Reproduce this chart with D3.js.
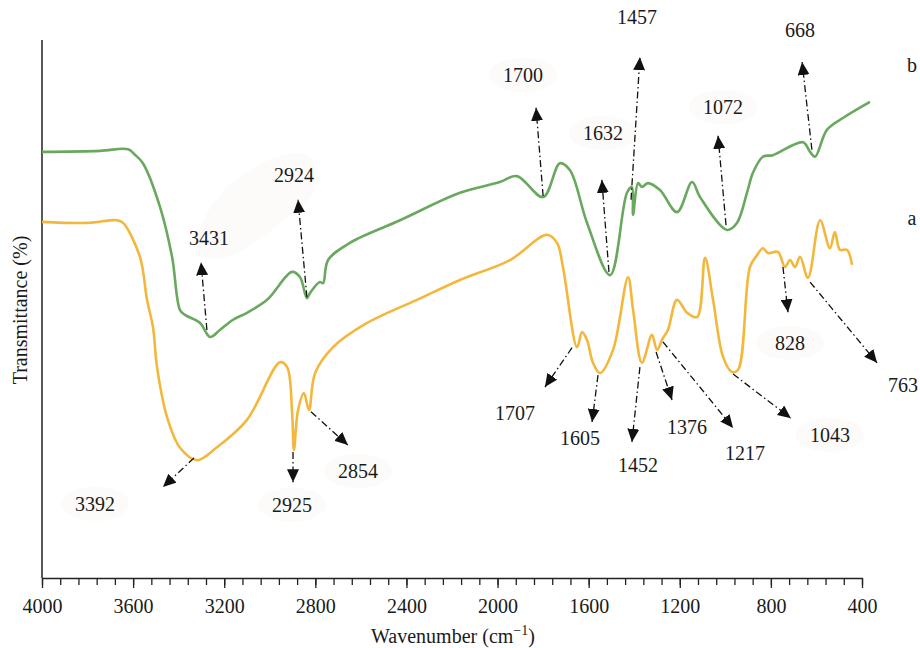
<!DOCTYPE html>
<html>
<head>
<meta charset="utf-8">
<script src="https://cdn.jsdelivr.net/npm/d3@7"></script>
<style>
  body { margin: 0; background: #fff; }
  text { font-family: "Liberation Serif", "DejaVu Serif", serif; fill: #1a1a1a; }
</style>
</head>
<body>
<div id="chart-area"></div>
<script>
// spectra: [wavenumber cm-1, transmittance]
const sampleB = [
  [4000, 79.2], [3745, 79.4], [3622, 79.7], [3590, 78.6], [3557, 77.1], [3482, 69.0], [3429, 59.7],
  [3394, 49.8], [3372, 48.9], [3306, 47.4], [3262, 44.8], [3219, 46.1], [3161, 48.0],
  [3100, 49.3], [3012, 51.7], [2902, 56.9], [2867, 55.9], [2837, 52.0], [2823, 53.0],
  [2780, 55.0], [2766, 54.8], [2744, 59.1], [2648, 62.3], [2428, 66.5], [2165, 71.6],
  [1990, 73.6], [1915, 74.7], [1800, 70.8], [1726, 77.1], [1682, 75.8], [1607, 66.0], [1506, 56.3],
  [1432, 71.6], [1410, 72.7], [1405, 67.5], [1383, 73.4], [1366, 72.7], [1340, 73.4],
  [1287, 72.1], [1212, 68.0], [1146, 73.6], [1111, 70.8], [993, 64.7], [949, 66.0],
  [905, 71.6], [879, 75.3], [835, 78.3], [791, 78.6], [659, 81.0], [628, 79.2],
  [606, 78.3], [554, 83.3], [480, 85.6], [365, 88.5]
]

const sampleA = [
  [4000, 66.2], [3800, 66.0], [3671, 66.5], [3644, 66.0], [3570, 59.7], [3539, 51.7], [3513, 46.7],
  [3495, 39.2], [3451, 29.9], [3394, 24.2], [3320, 21.9], [3232, 24.3], [3100, 29.4],
  [2955, 40.1], [2924, 39.2], [2902, 30.7], [2894, 23.8], [2876, 31.2], [2850, 34.4],
  [2828, 31.2], [2801, 38.1], [2722, 42.9], [2573, 47.4], [2354, 51.7], [2165, 55.4],
  [1945, 59.1], [1783, 63.8], [1739, 62.3], [1713, 57.8], [1651, 42.9], [1629, 45.7],
  [1607, 44.2], [1581, 40.0], [1550, 38.1], [1493, 42.4], [1427, 55.9], [1405, 49.8],
  [1366, 40.0], [1322, 45.2], [1300, 42.4], [1274, 44.6], [1252, 46.1], [1212, 51.7],
  [1168, 49.3], [1124, 48.5], [1089, 59.5], [1054, 51.7], [1010, 41.1], [971, 38.3],
  [944, 38.7], [892, 57.8], [861, 60.0], [835, 61.3], [813, 60.4], [769, 60.6],
  [738, 57.8], [716, 59.1], [694, 57.8], [672, 59.7], [637, 55.8], [584, 66.5],
  [541, 61.3], [519, 64.3], [497, 61.0], [466, 61.0], [444, 58.2]
]

// peak labels: text, peak point, arrow tip, label point (wavenumber, transmittance)
const peaksB = [
  ["3431", [3276, 46.1], [3302, 58.7], [3267, 63.2]],
  ["2924", [2837, 52.2], [2876, 70.3], [2894, 74.9]],
  ["1700", [1800, 71.0], [1831, 87.4], [1888, 93.5]],
  ["1632", [1511, 56.9], [1542, 74.0], [1537, 82.7]],
  ["1457", [1414, 70.3], [1375, 96.8], [1388, 104.3]],
  ["1072", [997, 65.6], [1032, 82.2], [1010, 87.5]],
  ["668", [620, 79.6], [663, 95.9], [672, 101.9]]
]

const peaksA = [
  ["3392", [3333, 22.3], [3469, 16.9], [3767, 13.8]],
  ["2925", [2898, 23.4], [2898, 17.8], [2902, 13.6]],
  ["2854", [2819, 30.9], [2657, 24.7], [2613, 19.9]],
  ["1707", [1673, 42.8], [1792, 35.5], [1923, 30.7]],
  ["1605", [1559, 37.7], [1585, 29.0], [1638, 26.0]],
  ["1452", [1375, 39.2], [1410, 25.3], [1383, 21.0]],
  ["1376", [1304, 42.0], [1234, 33.1], [1168, 28.1]],
  ["1217", [1274, 43.9], [966, 27.9], [914, 23.2]],
  ["1043", [966, 37.9], [712, 29.7], [541, 26.6]],
  ["828", [747, 57.8], [725, 49.4], [716, 43.7]],
  ["763", [628, 55.0], [334, 40.0], [220, 35.9]]
]

// curve names and where they sit
const seriesLabels = [["b", 181, 95.4], ["a", 181, 66.9]]

// labels that have a faint blotch behind them in the scan
const hazyLabels = ["1700", "1632", "1072", "3392", "2925", "2854", "828", "1043"]

const majorTicks = d3.range(4000, 399, -400)
const minorTicks = d3.range(4000, 399, -80)

const W = 920, H = 648
const MARGIN = { LEFT: 42, RIGHT: 58, TOP: 40, BOTTOM: 70 }

const svg = d3.select("#chart-area").append("svg")
  .attr("width", W)
  .attr("height", H)

const x = d3.scaleLinear()
  .domain([4000, 400])
  .range([MARGIN.LEFT, W - MARGIN.RIGHT])

const y = d3.scaleLinear()
  .domain([0, 100])
  .range([H - MARGIN.BOTTOM, MARGIN.TOP])

// arrow head
svg.append("defs").append("marker")
  .attr("id", "head")
  .attr("markerUnits", "userSpaceOnUse")
  .attr("markerWidth", 14)
  .attr("markerHeight", 12)
  .attr("refX", 13)
  .attr("refY", 6)
  .attr("orient", "auto")
  .append("path")
    .attr("d", "M0,0 L13,6 L0,12 Z")
    .attr("fill", "#111")

// faint blotches
const allPeaks = peaksB.concat(peaksA)
const haze = svg.append("g").attr("fill", "#fcfbf9")
haze.selectAll("ellipse")
  .data(allPeaks.filter(function(d) { return hazyLabels.indexOf(d[0]) >= 0 }))
  .enter().append("ellipse")
    .attr("cx", function(d) { return x(d[3][0]) })
    .attr("cy", function(d) { return y(d[3][1]) })
    .attr("rx", 34)
    .attr("ry", 17)
// the long smear behind 3431 / 2924
haze.append("path")
  .attr("d", "M" + x(3320) + "," + y(60) + " C" + x(3340) + "," + y(70) + " " + x(3050) + "," + y(79) + " " + x(2870) + "," + y(79)
    + " C" + x(2760) + "," + y(79) + " " + x(2780) + "," + y(71) + " " + x(2860) + "," + y(69)
    + " C" + x(3000) + "," + y(65) + " " + x(3150) + "," + y(57) + " " + x(3320) + "," + y(60) + " Z")

// axes
const xAxisMinor = d3.axisBottom(x)
  .tickValues(minorTicks)
  .tickSize(7)
  .tickSizeOuter(0)
  .tickFormat("")
svg.append("g")
  .attr("transform", "translate(0," + y(0) + ")")
  .call(xAxisMinor)
  .call(function(g) { g.select(".domain").attr("stroke", "#222").attr("stroke-width", 1.5) })
  .call(function(g) { g.selectAll(".tick line").attr("stroke", "#222").attr("stroke-width", 1.3) })

const xAxisMajor = d3.axisBottom(x)
  .tickValues(majorTicks)
  .tickSize(10)
  .tickSizeOuter(0)
  .tickPadding(11)
  .tickFormat(d3.format("d"))
svg.append("g")
  .attr("transform", "translate(0," + y(0) + ")")
  .call(xAxisMajor)
  .call(function(g) { g.select(".domain").remove() })
  .call(function(g) { g.selectAll(".tick line").attr("stroke", "#222").attr("stroke-width", 1.3) })
  .selectAll("text")
    .attr("font-family", "Liberation Serif")
    .attr("font-size", "20px")
    .attr("fill", "#1a1a1a")

svg.append("line")
  .attr("x1", x(4000)).attr("x2", x(4000))
  .attr("y1", MARGIN.TOP).attr("y2", y(0))
  .attr("stroke", "#222")
  .attr("stroke-width", 1.5)

// axis titles
const xt = svg.append("text")
  .attr("x", 453)
  .attr("y", 643)
  .attr("text-anchor", "middle")
  .attr("font-size", "20px")
xt.append("tspan").text("Wavenumber (cm")
xt.append("tspan").attr("dy", -8).attr("font-size", "14px").text("\u22121")
xt.append("tspan").attr("dy", 8).text(")")

svg.append("text")
  .attr("transform", "translate(27," + 310 + ") rotate(-90)")
  .attr("text-anchor", "middle")
  .attr("font-size", "20px")
  .text("Transmittance (%)")

// spectra
const line = d3.line()
  .x(function(d) { return x(d[0]) })
  .y(function(d) { return y(d[1]) })
  .curve(d3.curveCatmullRom.alpha(0.5))

svg.append("path")
  .datum(sampleB)
  .attr("d", line)
  .attr("fill", "none")
  .attr("stroke", "#6aa85f")
  .attr("stroke-width", 2.6)
  .attr("stroke-linejoin", "round")

svg.append("path")
  .datum(sampleA)
  .attr("d", line)
  .attr("fill", "none")
  .attr("stroke", "#f3b73c")
  .attr("stroke-width", 2.6)
  .attr("stroke-linejoin", "round")

// arrows and peak labels
const ann = svg.append("g")
ann.selectAll("line")
  .data(allPeaks)
  .enter().append("line")
    .attr("x1", function(d) { return x(d[1][0]) })
    .attr("y1", function(d) { return y(d[1][1]) })
    .attr("x2", function(d) { return x(d[2][0]) })
    .attr("y2", function(d) { return y(d[2][1]) })
    .attr("stroke", "#111")
    .attr("stroke-width", 1.3)
    .attr("stroke-dasharray", "7,3,1.5,3")
    .attr("marker-end", "url(#head)")

ann.selectAll("text")
  .data(allPeaks)
  .enter().append("text")
    .attr("x", function(d) { return x(d[3][0]) })
    .attr("y", function(d) { return y(d[3][1]) })
    .attr("dy", "0.35em")
    .attr("text-anchor", "middle")
    .attr("font-size", "20px")
    .text(function(d) { return d[0] })

svg.append("g").selectAll("text")
  .data(seriesLabels)
  .enter().append("text")
    .attr("x", function(d) { return x(d[1]) })
    .attr("y", function(d) { return y(d[2]) })
    .attr("dy", "0.35em")
    .attr("text-anchor", "middle")
    .attr("font-size", "20px")
    .text(function(d) { return d[0] })
</script>
</body>
</html>
